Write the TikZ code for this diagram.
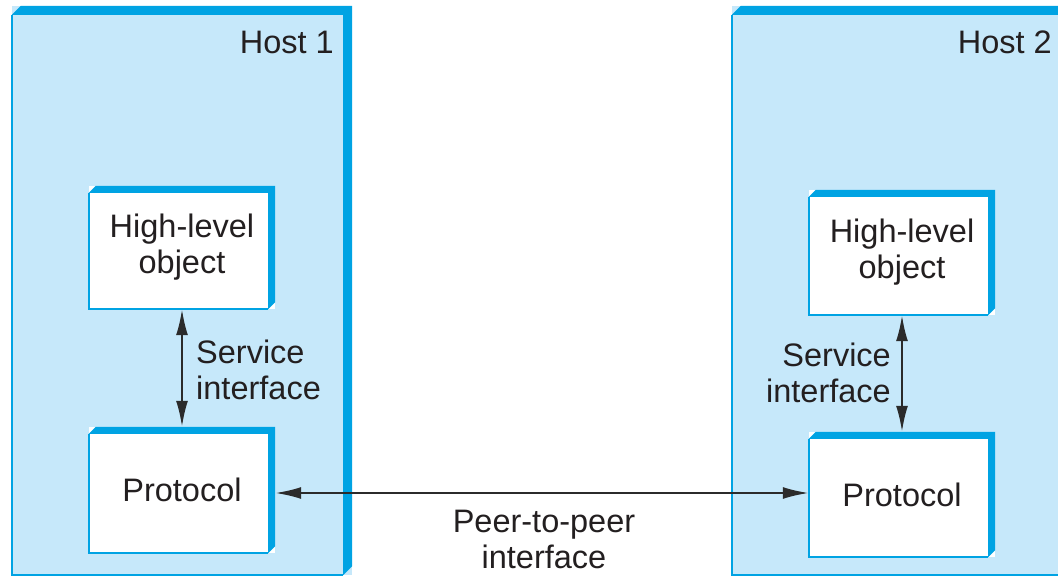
\documentclass[tikz,border=0pt]{standalone}
\usepackage{fontspec}
\setmainfont{Liberation Sans}
\usetikzlibrary{arrows.meta}
\definecolor{hostfill}{HTML}{C6E8FA}
\definecolor{edgeblue}{HTML}{00A3E3}
\definecolor{ink}{HTML}{231F20}
\definecolor{arrowink}{HTML}{2B2B2B}
\tikzset{
  hostbox/.style={fill=hostfill, draw=none, inner sep=0pt, minimum width=340pt, minimum height=569pt},
  innerbox/.style={fill=white, draw=none, inner sep=0pt, minimum width=186pt, minimum height=124pt, align=center, text=ink},
  lbl/.style={text=ink, inner sep=0pt},
  conn/.style={draw=arrowink, line width=2.2pt, {Latex[length=26pt,width=12pt]}-{Latex[length=26pt,width=12pt]}}
}
\begin{document}
\begin{tikzpicture}[x=1pt,y=-1pt, font=\fontsize{32.5}{36}\selectfont]
\useasboundingbox (0,0) rectangle (1058,577);
% hosts
\node[hostbox] (h1) at (182,290.5) {};
\node[hostbox] (h2) at (902,290.5) {};
% inner boxes
\node[innerbox, minimum height=123pt] (hl1) at (182,247.5) {High-level\\object};
\node[innerbox, minimum height=126pt] (p1) at (182,490) {Protocol};
\node[innerbox, minimum height=125pt] (hl2) at (902,252.5) {High-level\\object};
\node[innerbox, minimum height=125pt] (p2) at (902,494.5) {Protocol};
% borders
\foreach \n/\t in {h1/9,h2/9,hl1/7,p1/7,hl2/7,p2/7}{
  \fill[edgeblue] ([yshift=-\t pt]\n.north west) -- ([xshift=\t pt]\n.north west) -- (\n.north east)
     -- ([yshift=\t pt]\n.south east) -- ([xshift=-\t pt]\n.south east)
     -- ([xshift=-\t pt,yshift=-\t pt]\n.north east) -- cycle;
  \draw[edgeblue, line width=1.6pt] ([yshift=-\t pt]\n.north west) -- (\n.south west) -- ([xshift=-\t pt]\n.south east);
}
% labels
\node[lbl, anchor=east] (t1) at (334,42) {Host 1};
\node[lbl, anchor=east] (t2) at (1052,42) {Host 2};
\node[lbl, anchor=west, align=left] (s1) at (196,370) {Service\\interface};
\node[lbl, anchor=east, align=right] (s2) at (891,373) {Service\\interface};
\node[lbl, align=center] (pp) at (544,539) {Peer-to-peer\\interface};
% connectors
\draw[conn] (hl1.south) -- (p1.north);
\draw[conn] (hl2.south) -- (p2.north);
\draw[conn] ([yshift=-3pt]p1.east) -- ([yshift=-3pt]p1.east -| p2.west);
\end{tikzpicture}
\end{document}
